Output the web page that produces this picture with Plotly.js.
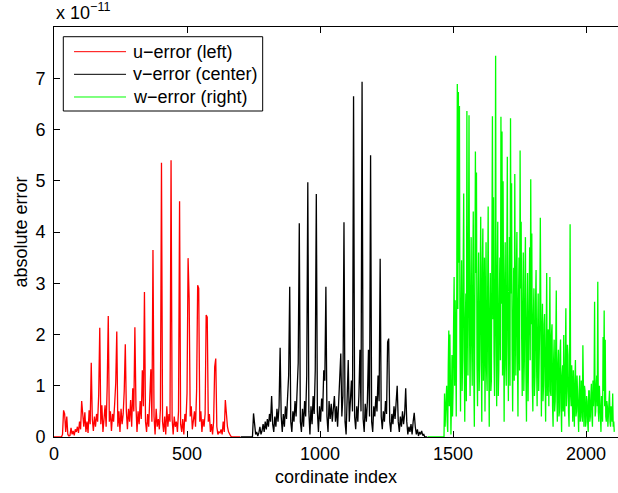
<!DOCTYPE html>
<html>
<head>
<meta charset="utf-8">
<script src="https://cdn.plot.ly/plotly-3.0.1.min.js"></script>
<style>html,body{margin:0;padding:0;background:#fff;}#chart{width:618px;height:493px;}</style>
</head>
<body>
<div id="chart"></div>
<script>
// absolute error values in units of 1e-11
const seriesNames = ['u\u2212error (left)', 'v\u2212error (center)', 'w\u2212error (right)'];
const seriesStart = [0, 702, 1404];
const seriesStep = [4, 4, 2];   // coordinate-index spacing of the samples
const uError = [
0,0,0,0,0,0,0,0,
0.05,0.52,0.45,0.1,0.4,0.05,0.02,0.03,
0.18,0.05,0.12,0.03,0.15,0.1,0.2,0.08,
0.3,0.15,0.7,0.45,0.2,0.48,0.1,0.3,
0.08,0.52,0.25,1.45,0.35,0.12,0.4,0.2,
0.45,0.3,0.82,2.13,0.25,0.62,0.1,0.35,
0.62,0.2,1.0,2.36,0.3,0.5,0.12,0.45,
0.3,0.65,1.05,2.06,0.2,0.5,0.1,0.55,
0.25,0.45,0.9,1.81,0.5,0.15,0.55,0.3,
0.72,0.2,0.95,0.5,2.14,0.62,0.1,0.5,
0.25,0.7,0.35,1.3,0.6,2.83,0.3,0.1,
0.45,0.2,0.65,1.32,0.3,3.65,0.4,0.05,
0.55,0.2,0.35,0.15,0.55,5.35,0.3,0.1,
0.4,0.05,0.6,0.2,0.45,0.3,5.4,0.35,
0.05,0.4,0.2,0.3,0.1,0.5,4.6,0.25,
0.1,0.35,0.05,0.45,0.3,0.85,3.49,2.7,
0.4,0.6,0.15,0.35,0.5,0.2,0.9,2.96,
2.9,0.3,0.5,0.1,0.35,0.2,0.45,2.38,
2.34,0.3,0.45,0.1,0.25,0.05,0.3,1.37,
1.53,0.2,0.05,0.1,0.08,0.15,0.05,0.3,
0.1,0.72,0.45,0.2,0.1,0.05,0.02,0,
0,0,0,0,0,0,0,0
];
const vError = [
0,0,0,0,0,0,0,0,
0,0,0,0,0.46,0.3,0.05,0.1,
0.02,0.08,0.2,0.05,0.12,0.25,0.1,0.3,
0.15,0.35,0.2,0.45,0.3,0.8,0.25,0.1,
0.4,0.2,0.55,0.3,0.6,1.74,0.4,0.1,
0.45,0.2,0.6,0.35,0.9,1.2,2.93,0.3,
0.1,0.5,0.3,0.7,0.4,1.1,1.45,4.17,
0.3,0.1,0.55,0.2,0.7,0.4,1.2,4.97,
0.5,0.05,0.6,0.25,0.8,0.45,1.3,4.74,
0.5,0.1,0.6,0.3,0.75,0.5,1.3,1.1,
2.93,0.4,0.1,0.7,0.35,0.65,0.3,0.55,
0.8,0.3,0.6,0.2,0.75,1.2,1.63,0.4,
0.8,4.19,0.3,0.05,0.7,1.5,0.3,0.6,
1.1,0.5,6.65,0.4,0.15,0.6,0.3,0.8,
1.7,0.5,6.93,0.35,0.1,0.65,0.3,0.7,
1.7,0.4,5.5,0.3,0.1,0.6,0.4,0.8,
0.5,1.2,0.7,3.48,0.4,0.15,0.5,0.3,
0.7,0.45,1.85,1.92,0.3,0.1,0.45,0.25,
0.6,0.35,0.7,1.0,0.3,0.1,0.4,0.2,
0.5,0.25,0.45,0.95,0.3,0.05,0.2,0.1,
0.25,0.05,0.3,0.47,0.2,0.05,0.15,0.02,
0.1,0.05,0.12,0.03,0.05,0,0,0
];
const wError = [
0,0,0,0,0,0,0,0,0,0,0,0,0,0,0,0,
0,0,0,0,0,0,0,0,0,0,0,0,0,0,0,0,
0.85,0.2,0.5,0.9,1.0,0.3,0.1,1.4,2.08,0.6,2.0,1.1,0.05,0.7,1.6,0.4,
0.9,2.2,3.12,1.0,2.67,1.8,0.4,3.0,6.89,2.5,6.73,3.4,6.46,1.9,0.5,2.4,
3.45,0.9,1.5,3.3,4.75,1.6,0.3,2.2,2.8,0.7,6.36,2.9,1.2,3.6,6.28,2.1,
0.8,2.6,3.9,1.8,1.0,3.1,4.4,1.2,0.2,2.7,5.57,3.2,5.16,1.4,0.6,2.5,
3.6,0.9,1.4,2.9,4.3,1.7,0.3,3.3,4.07,1.1,2.0,3.5,0.5,2.2,3.8,1.3,
0.9,2.8,4.5,1.5,0.2,2.4,3.2,0.9,1.1,3.7,6.26,2.3,4.68,1.6,0.8,3.0,
7.44,2.0,0.6,3.1,4.2,0.8,1.3,2.7,3.5,1.5,6.25,2.6,5.96,1.2,4.99,2.4,
0.3,2.9,3.8,1.4,1.0,3.4,5.47,1.9,0.7,2.6,3.9,1.0,6.22,2.8,4.95,1.7,
0.5,2.2,3.3,1.1,5.13,2.5,1.2,3.2,4.0,1.6,0.4,2.7,3.5,1.3,5.59,2.9,
4.2,1.9,0.8,2.5,3.6,0.9,1.5,3.0,3.9,1.2,0.3,2.3,3.2,0.7,1.8,2.8,
3.7,1.5,5.03,2.2,3.97,1.0,0.5,2.4,2.9,0.8,1.2,2.6,3.26,1.4,0.6,2.1,
2.8,0.9,1.5,2.3,4.28,1.2,0.4,1.9,2.6,0.7,1.0,2.2,2.4,1.1,0.3,1.8,
3.2,0.8,1.4,2.1,0.6,1.7,3.12,0.9,0.8,2.0,2.2,0.6,0.2,1.5,1.9,0.5,
0.7,1.8,2.86,0.9,0.3,1.4,1.7,0.4,0.5,1.6,1.9,0.6,0.1,1.2,1.4,0.5,
1.99,0.7,0.4,1.5,2.51,0.6,0.9,1.8,1.6,0.5,0.2,1.3,4.15,0.8,0.6,1.4,
1.0,0.3,1.3,0.8,0.2,1.1,1.5,0.4,0.5,1.2,0.9,0.2,0.1,0.9,1.2,0.3,
0.4,1.1,0.8,0.3,1.79,0.6,0.2,1.0,0.9,0.2,0.3,0.8,0.7,0.3,0.1,0.9,
0.9,0.3,0.4,0.8,1.04,0.4,0.2,1.1,0.6,0.9,2.64,0.4,0.5,1.0,1.2,0.6,
3.03,0.5,0.3,1.0,0.5,0.2,0.1,0.8,0.7,0.3,1.95,0.9,2.47,0.6,1.9,0.4,
0.3,0.7,0.6,0.2,0.4,0.8,0.9,0.3,0.2,0.6,0.5,0.3,0.85,0.2,0.3,0.1
];
const xTickVals = [0, 500, 1000, 1500, 2000];
const yTickVals = [0, 1, 2, 3, 4, 5, 6, 7];
const yTickText = ['0', '1', '2', '3', '4', '5', '6', '7'];
const seriesColors = ['#ff0000', '#000000', '#00ff00'];

const allY = [uError, vError, wError];
const traces = allY.map((ys, k) => ({
  type: 'scatter', mode: 'lines',
  name: seriesNames[k],
  x: ys.map((_, i) => seriesStart[k] + i * seriesStep[k]),
  y: ys,
  line: {color: seriesColors[k], width: 1.3},
  hoverinfo: 'skip',
  showlegend: false
}));

const FONT = 'Liberation Sans, Arial, Helvetica, sans-serif';

// legend box drawn in paper coordinates (MATLAB style)
const L = {x0: 0.0165, x1: 0.370, y0: 0.7951, y1: 0.9763, lx0: 0.0355, lx1: 0.1277, tx: 0.1365,
           rows: [0.9398, 0.8846, 0.8293]};
const shapes = [{type: 'rect', xref: 'paper', yref: 'paper', x0: L.x0, x1: L.x1, y0: L.y0, y1: L.y1,
                 line: {color: '#000', width: 1}, fillcolor: '#fff', layer: 'above'}];
const annotations = [{
  xref: 'paper', yref: 'paper', x: 0, y: 1, xanchor: 'left', yanchor: 'bottom',
  yshift: 2, showarrow: false, text: 'x 10<sup>\u221211</sup>',
  font: {family: FONT, size: 18, color: '#000'}
}];
seriesNames.forEach((nm, k) => {
  shapes.push({type: 'line', xref: 'paper', yref: 'paper', x0: L.lx0, x1: L.lx1, y0: L.rows[k], y1: L.rows[k],
               line: {color: seriesColors[k], width: 1}, layer: 'above'});
  annotations.push({xref: 'paper', yref: 'paper', x: L.tx, y: L.rows[k], xanchor: 'left', yanchor: 'middle',
                    showarrow: false, text: nm, font: {family: FONT, size: 18, color: '#000'}});
});

const layout = {
  width: 618, height: 493,
  margin: {l: 54, r: 0, t: 27, b: 56, pad: 0},
  paper_bgcolor: '#fff', plot_bgcolor: '#fff',
  font: {family: FONT, size: 18, color: '#000'},
  showlegend: false,
  xaxis: {
    range: [0, 2120], tickvals: xTickVals, ticktext: xTickVals.map(String),
    ticks: 'inside', ticklen: 6, tickcolor: '#000', tickwidth: 1,
    showline: true, linecolor: '#000', linewidth: 1, mirror: 'ticks',
    showgrid: false, zeroline: false,
    tickfont: {family: FONT, size: 18},
    title: {text: 'cordinate index', font: {family: FONT, size: 18}, standoff: 7}
  },
  yaxis: {
    range: [0, 8], tickvals: yTickVals, ticktext: yTickText,
    ticks: 'inside', ticklen: 6, tickcolor: '#000', tickwidth: 1,
    showline: true, linecolor: '#000', linewidth: 1,
    showgrid: false, zeroline: false,
    tickfont: {family: FONT, size: 18}, ticklabelstandoff: 4,
    title: {text: 'absolute error', font: {family: FONT, size: 18}, standoff: 3}
  },
  shapes: shapes,
  annotations: annotations
};
Plotly.newPlot('chart', traces, layout, {staticPlot: true, displayModeBar: false});
</script>
</body>
</html>
